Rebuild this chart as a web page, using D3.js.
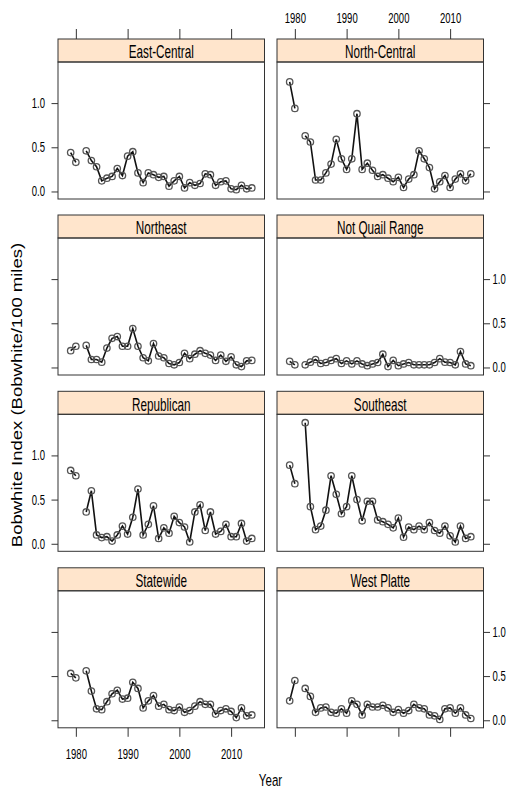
<!DOCTYPE html>
<html>
<head>
<meta charset="utf-8">
<script src="https://cdn.jsdelivr.net/npm/d3@7"></script>
<style>
  body { margin: 0; background: #fff; }
  svg { display: block; }
  text { font-family: "Liberation Sans", Arial, Helvetica, sans-serif; fill: #000; }
</style>
</head>
<body>
<div id="chart"></div>
<script>
// Bobwhite index by region, 1979-2014 (no survey in 1981)
const years = [1979, 1980, 1981, 1982, 1983, 1984, 1985, 1986, 1987, 1988, 1989,
  1990, 1991, 1992, 1993, 1994, 1995, 1996, 1997, 1998, 1999, 2000, 2001, 2002,
  2003, 2004, 2005, 2006, 2007, 2008, 2009, 2010, 2011, 2012, 2013, 2014];

const regions = ["East-Central", "North-Central", "Northeast", "Not Quail Range",
  "Republican", "Southeast", "Statewide", "West Platte"];

const eastCentral = [0.44, 0.33, null, 0.46, 0.35, 0.28, 0.12, 0.15, 0.17, 0.26, 0.18,
  0.40, 0.45, 0.21, 0.10, 0.21, 0.19, 0.16, 0.17, 0.06, 0.12, 0.17, 0.04, 0.10,
  0.07, 0.09, 0.20, 0.19, 0.07, 0.11, 0.12, 0.03, 0.02, 0.07, 0.03, 0.04];
const northCentral = [1.24, 0.94, null, 0.63, 0.56, 0.13, 0.13, 0.21, 0.31, 0.59, 0.37,
  0.25, 0.37, 0.88, 0.25, 0.32, 0.24, 0.17, 0.19, 0.15, 0.11, 0.16, 0.045, 0.14,
  0.19, 0.46, 0.37, 0.27, 0.03, 0.11, 0.18, 0.045, 0.14, 0.20, 0.12, 0.20];
const northeast = [0.19, 0.24, null, 0.25, 0.09, 0.09, 0.06, 0.22, 0.33, 0.35, 0.24,
  0.24, 0.44, 0.24, 0.11, 0.075, 0.27, 0.13, 0.11, 0.045, 0.03, 0.056, 0.16, 0.10,
  0.15, 0.19, 0.16, 0.14, 0.08, 0.14, 0.07, 0.12, 0.03, 0.01, 0.075, 0.08];
const notQuailRange = [0.07, 0.03, null, 0.03, 0.06, 0.09, 0.045, 0.056, 0.08, 0.10, 0.045,
  0.075, 0.04, 0.075, 0.04, 0.02, 0.04, 0.056, 0.15, 0.01, 0.08, 0.02, 0.04, 0.056,
  0.03, 0.03, 0.03, 0.03, 0.056, 0.10, 0.06, 0.056, 0.03, 0.18, 0.04, 0.02];
const republican = [0.83, 0.77, null, 0.36, 0.60, 0.10, 0.07, 0.08, 0.03, 0.10, 0.20,
  0.11, 0.30, 0.62, 0.10, 0.22, 0.43, 0.06, 0.18, 0.12, 0.31, 0.24, 0.19, 0.02,
  0.36, 0.44, 0.15, 0.36, 0.11, 0.14, 0.22, 0.08, 0.08, 0.23, 0.03, 0.06];
const southeast = [0.89, 0.68, null, 1.37, 0.42, 0.16, 0.20, 0.38, 0.77, 0.56, 0.34,
  0.42, 0.77, 0.50, 0.26, 0.48, 0.48, 0.27, 0.25, 0.22, 0.18, 0.29, 0.075, 0.19,
  0.16, 0.20, 0.16, 0.24, 0.15, 0.12, 0.20, 0.09, 0.02, 0.20, 0.06, 0.08];
const statewide = [0.53, 0.48, null, 0.56, 0.33, 0.13, 0.12, 0.21, 0.30, 0.34, 0.24,
  0.25, 0.43, 0.36, 0.14, 0.22, 0.28, 0.16, 0.18, 0.12, 0.11, 0.15, 0.09, 0.11,
  0.16, 0.21, 0.18, 0.18, 0.07, 0.11, 0.13, 0.10, 0.03, 0.14, 0.05, 0.06];
const westPlatte = [0.22, 0.45, null, 0.36, 0.27, 0.09, 0.14, 0.15, 0.09, 0.08, 0.13,
  0.08, 0.22, 0.18, 0.06, 0.18, 0.15, 0.15, 0.17, 0.14, 0.09, 0.12, 0.08, 0.11,
  0.18, 0.14, 0.13, 0.06, 0.05, 0.01, 0.13, 0.14, 0.08, 0.14, 0.06, 0.02];

const seriesList = [eastCentral, northCentral, northeast, notQuailRange,
  republican, southeast, statewide, westPlatte];

const yearTicks = [1980, 1990, 2000, 2010];
const indexTicks = [0, 0.5, 1.0];

// layout (2 columns x 4 rows, lattice style)
const width = 513, height = 791;
const colX = [58, 277];
const rowY = [39, 215, 391.3, 567.8];
const panelW = 206.5, stripH = 23, plotH = 137;
const squeezeX = 0.68;   // the reference renders text narrow
const edge = "#333";

const svg = d3.select("#chart").append("svg")
    .attr("width", width)
    .attr("height", height);

// lattice pads the data range by 7% on each side
function padded(ext) {
    const d = (ext[1] - ext[0]) * 0.07;
    return [ext[0] - d, ext[1] + d];
}

const allValues = seriesList.flat().filter(v => v != null);
const xScale = d3.scaleLinear().domain(padded(d3.extent(years))).range([0, panelW]);
const yScale = d3.scaleLinear().domain(padded(d3.extent(allValues))).range([plotH, 0]);

function squeeze(texts, sx) {
    texts.each(function() {
        const t = d3.select(this);
        const x = +t.attr("x") || 0;
        t.attr("x", x / sx).attr("transform", `scale(${sx},1)`);
    });
}

function styleAxis(g, sx) {
    g.select(".domain").remove();
    g.attr("font-family", null).attr("font-size", null);
    g.selectAll(".tick line").attr("stroke", edge);
    g.selectAll(".tick text").attr("fill", "#000").style("font-size", "14px");
    squeeze(g.selectAll(".tick text"), sx);
}

const lineGen = d3.line()
    .defined(d => d.v != null)
    .x(d => xScale(d.year))
    .y(d => yScale(d.v));

regions.forEach((name, i) => {
    const col = i % 2, row = Math.floor(i / 2);
    const data = years.map((year, k) => ({ year, v: seriesList[i][k] }));

    const panel = svg.append("g")
        .attr("transform", `translate(${colX[col]},${rowY[row]})`);

    // strip
    panel.append("rect")
        .attr("width", panelW).attr("height", stripH)
        .attr("fill", "#ffe5cc")
        .attr("stroke", edge);
    const label = panel.append("text")
        .attr("x", panelW / 2).attr("y", 19.5)
        .attr("text-anchor", "middle")
        .style("font-size", "17.5px")
        .text(name);
    squeeze(label, 0.67);

    const plot = panel.append("g").attr("transform", `translate(0,${stripH})`);

    plot.append("rect")
        .attr("width", panelW).attr("height", plotH)
        .attr("fill", "none")
        .attr("stroke", edge);

    plot.append("path")
        .datum(data)
        .attr("fill", "none")
        .attr("stroke", "#111")
        .attr("stroke-width", 1.6)
        .attr("d", lineGen);

    plot.selectAll("circle")
        .data(data.filter(d => d.v != null))
        .enter()
        .append("circle")
        .attr("cx", d => xScale(d.year))
        .attr("cy", d => yScale(d.v))
        .attr("r", 3.2)
        .attr("fill", "none")
        .attr("stroke", "#555")
        .attr("stroke-width", 1.3);

    // y axes alternate sides
    const labelled = col === 0 ? row % 2 === 0 : row % 2 === 1;
    const fmt = labelled ? d3.format(".1f") : () => "";
    if (col === 0) {
        plot.append("g")
            .call(d3.axisLeft(yScale).tickValues(indexTicks).tickSizeOuter(0)
                .tickSize(6.5).tickPadding(6.5).tickFormat(fmt))
            .call(g => styleAxis(g, squeezeX));
    } else {
        plot.append("g")
            .attr("transform", `translate(${panelW},0)`)
            .call(d3.axisRight(yScale).tickValues(indexTicks).tickSizeOuter(0)
                .tickSize(6.5).tickPadding(2.5).tickFormat(fmt))
            .call(g => styleAxis(g, squeezeX));
    }

    // x axes: top above the first row strips, bottom under the last row
    if (row === 0) {
        panel.append("g")
            .call(d3.axisTop(xScale).tickValues(yearTicks).tickSizeOuter(0)
                .tickSize(10).tickPadding(6.5)
                .tickFormat(col === 1 ? d3.format("d") : () => ""))
            .call(g => styleAxis(g, squeezeX));
    }
    if (row === 3) {
        plot.append("g")
            .attr("transform", `translate(0,${plotH})`)
            .call(d3.axisBottom(xScale).tickValues(yearTicks).tickSizeOuter(0)
                .tickSize(9).tickPadding(12)
                .tickFormat(col === 0 ? d3.format("d") : () => ""))
            .call(g => styleAxis(g, squeezeX));
    }
});

// Y axis label
svg.append("text")
    .attr("transform", "translate(21.5,395) rotate(-90) scale(1,0.8)")
    .attr("text-anchor", "middle")
    .style("font-size", "18.5px")
    .text("Bobwhite Index (Bobwhite/100 miles)");

// X axis label
const xLab = svg.append("text")
    .attr("x", 270.5).attr("y", 786)
    .attr("text-anchor", "middle")
    .style("font-size", "17px")
    .text("Year");
squeeze(xLab, 0.68);
</script>
</body>
</html>
